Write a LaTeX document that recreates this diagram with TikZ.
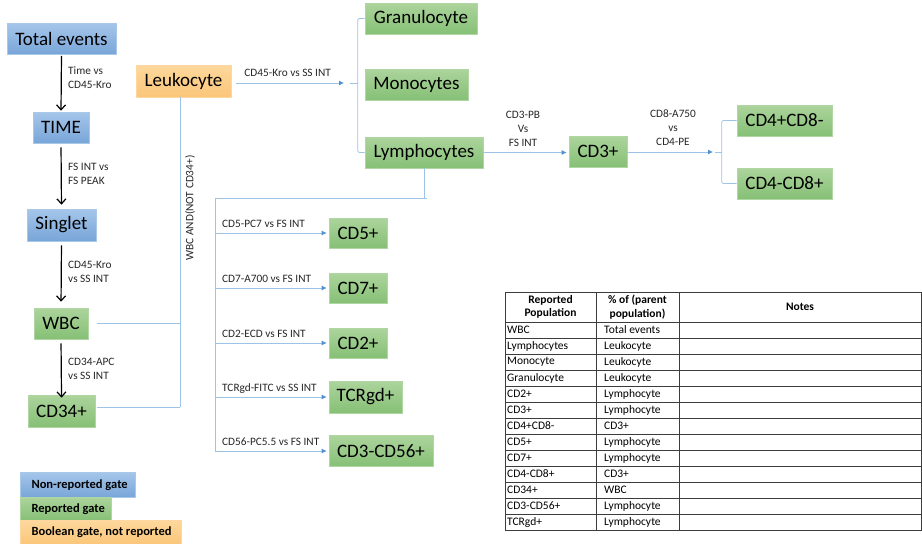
\documentclass[tikz,border=0pt]{standalone}
\usepackage{fontspec}
\setmainfont{Carlito}
\usetikzlibrary{arrows.meta}

\definecolor{bluetop}{RGB}{165,198,234}
\definecolor{bluebot}{RGB}{120,165,216}
\definecolor{blueedge}{RGB}{170,200,232}
\definecolor{greentop}{RGB}{172,212,156}
\definecolor{greenbot}{RGB}{134,192,118}
\definecolor{greenedge}{RGB}{176,214,164}
\definecolor{orangetop}{RGB}{253,216,156}
\definecolor{orangebot}{RGB}{251,198,122}
\definecolor{orangeedge}{RGB}{253,214,160}
\definecolor{connblue}{RGB}{157,195,230}
\definecolor{tipblue}{RGB}{80,145,210}
\definecolor{rule}{RGB}{60,60,60}

\tikzset{
  gate/.style={minimum height=31pt, inner sep=0pt, line width=0.6pt,
    font=\fontsize{19}{22}\selectfont},
  bluegate/.style={gate, top color=bluetop, bottom color=bluebot, draw=blueedge},
  greengate/.style={gate, top color=greentop, bottom color=greenbot, draw=greenedge},
  orangegate/.style={gate, top color=orangetop, bottom color=orangebot, draw=orangeedge},
  keybox/.style={inner sep=0pt, anchor=north west, line width=0.5pt},
  keytext/.style={anchor=west, font=\fontsize{12.5}{14}\selectfont\bfseries},
  flow/.style={line width=1.2pt, -{Straight Barb[length=5pt,width=9pt,line width=1.2pt]},
    shorten <=1pt, shorten >=1pt},
  conn/.style={draw=connblue, line width=0.8pt},
  connarrow/.style={conn, -{Latex[length=5pt,width=5pt,color=tipblue]}},
  lab/.style={font=\fontsize{11.3}{14}\selectfont, text=black!85, inner sep=0pt},
  cell/.style={font=\fontsize{11.5}{12}\selectfont, anchor=west, inner sep=0pt},
  head/.style={font=\fontsize{11.5}{13.5}\selectfont\bfseries, align=center, inner sep=0pt},
}

\begin{document}
\begin{tikzpicture}[x=1pt, y=-1pt]
\useasboundingbox (0,0) rectangle (922,544);

% ---- main gating chain ----
\node[bluegate, minimum width=109pt] (total) at (61.5,39) {Total events};
\node[bluegate, minimum width=56pt] (time) at (61,127.5) {TIME};
\node[bluegate, minimum width=69pt, minimum height=32pt] (singlet) at (61.5,225) {Singlet};
\node[greengate, minimum width=54pt] (wbc) at (61,323.5) {WBC};
\node[greengate, minimum width=67pt, minimum height=32pt] (cd34) at (61.5,411) {CD34+};

\draw[flow] (total.south) -- (time.north);
\draw[flow, shorten <=4pt, shorten >=4pt] (time.south) -- (singlet.north);
\draw[flow, shorten <=4pt, shorten >=6pt] (singlet.south) -- (wbc.north);
\draw[flow, shorten <=4pt, shorten >=-3pt] (wbc.south) -- (cd34.north);

\node[lab, anchor=west, align=left] (l1) at (68,78) {Time vs\\CD45-Kro};
\node[lab, anchor=west, align=left] (l2) at (68,173.5) {FS INT vs\\FS PEAK};
\node[lab, anchor=west, align=left] (l3) at (68,272) {CD45-Kro\\vs SS INT};
\node[lab, anchor=west, align=left] (l4) at (68,368.5) {CD34-APC\\vs SS INT};

% ---- boolean gate and its branches ----
\node[orangegate, minimum width=95pt, minimum height=32pt] (leuk) at (183.5,81) {Leukocyte};
\node[greengate, minimum width=112pt] (gran) at (421,18.5) {Granulocyte};
\node[greengate, minimum width=103pt] (mono) at (416.5,84.5) {Monocytes};
\node[greengate, minimum width=118pt] (lymph) at (424,152.5) {Lymphocytes};

\coordinate (b1tip) at (344,83);
\coordinate (b1nub) at (350,83);
\draw[connarrow, shorten <=5pt] (leuk.east |- b1tip) -- (b1tip)
  node[lab, midway, above=6pt] {CD45-Kro vs SS INT};
\draw[conn] (b1nub) -- ++(8,0);
\draw[conn, rounded corners=2pt] (gran.west) -- ++(-7,0) |- (lymph.west);

% leukocyte trunk combining WBC and CD34+
\coordinate (trunktop) at ([xshift=-3.5pt]leuk.south);
\coordinate (trunkbot) at (180,407);
\draw[conn] (trunktop) -- (trunkbot);
\draw[conn, shorten <=9pt] (wbc.east) -- (wbc.east -| trunktop);
\draw[conn, shorten <=2pt] (cd34.east |- trunkbot) -- (trunkbot);
\node[lab, rotate=90] (boolab) at (190,208) {WBC AND(NOT CD34+)};

% ---- T cell branch ----
\node[greengate, minimum width=58pt] (cd3) at (598,151.5) {CD3+};
\node[greengate, minimum width=95pt] (cd48) at (784.5,120.5) {CD4+CD8-};
\node[greengate, minimum width=95pt] (cd84) at (784.5,183.5) {CD4-CD8+};

\draw[connarrow, shorten >=2pt] (lymph.east) -- (cd3.west |- lymph.east);
\node[lab, align=center] (l5) at (523,129) {CD3-PB\\Vs\\FS INT};

\coordinate (b2tip) at (713,152);
\coordinate (b2nub) at (715,152);
\draw[connarrow] (cd3.east |- b2tip) -- (b2tip);
\draw[conn] (b2nub) -- ++(7,0);
\draw[conn, rounded corners=2pt] (cd48.west) -- ++(-15,0) |- (cd84.west);
\node[lab, align=center] (l6) at (673,128) {CD8-A750\\vs\\CD4-PE};

% ---- lymphocyte subsets ----
\node[greengate, minimum width=58pt, minimum height=30pt] (cd5) at (358,233) {CD5+};
\node[greengate, minimum width=58pt, minimum height=30pt] (cd7) at (358,288) {CD7+};
\node[greengate, minimum width=58pt, minimum height=30pt] (cd2) at (358,343) {CD2+};
\node[greengate, minimum width=73pt, minimum height=32pt] (tcr) at (365.5,397) {TCRgd+};
\node[greengate, minimum width=104pt] (cd56) at (381,451) {CD3-CD56+};

\coordinate (lymdrop) at (424,198);
\coordinate (bustop) at (215,198);
\coordinate (busbot) at (215,452);
\draw[conn] (lymph.south) -- (lymdrop);
\draw[conn] (bustop) -- ([xshift=3pt]lymdrop);
\draw[conn] (bustop) -- (busbot);

\foreach \t/\txt in {cd5/CD5-PC7 vs FS INT, cd7/CD7-A700 vs FS INT,
                     cd2/CD2-ECD vs FS INT, tcr/TCRgd-FITC vs SS INT,
                     cd56/CD56-PC5.5 vs FS INT}{
  \draw[connarrow, shorten >=2pt] (bustop |- \t.west) -- (\t.west);
  \node[lab, anchor=base west] at ([xshift=7pt, yshift=5.5pt]bustop |- \t.west) {\txt};
}

% ---- legend ----
\node[keybox, top color=bluetop, bottom color=bluebot, draw=blueedge,
  minimum width=115pt, minimum height=25pt] (kblue) at (20,472) {};
\node[keybox, top color=greentop, bottom color=greenbot, draw=greenedge,
  minimum width=91pt, minimum height=23pt] (kgreen) at (20,497) {};
\node[keybox, top color=orangetop, bottom color=orangebot, draw=orangeedge,
  minimum width=161pt, minimum height=24pt] (korange) at (20,520) {};
\node[keytext] at ([xshift=8pt]kblue.west) {Non-reported gate};
\node[keytext] at ([xshift=8pt]kgreen.west) {Reported gate};
\node[keytext] at ([xshift=8pt]korange.west) {Boolean gate, not reported};

% ---- summary table ----
\foreach \k in {1,...,12}{
  \draw[rule, line width=0.5pt] (505,322+16*\k) -- (921,322+16*\k);
}
\draw[rule, line width=0.9pt] (505,322) -- (921,322);
\draw[rule, line width=0.9pt] (596,292) -- (596,530);
\draw[rule, line width=0.9pt] (679,292) -- (679,530);
\draw[rule, line width=1pt] (505,292) rectangle (921,530);

\node[head] at (550.5,307) {Reported\\Population};
\node[head] at (637.5,307) {\% of (parent\\population)};
\node[head] at (800,307) {Notes};

\foreach [count=\i from 0] \pop/\prnt in {WBC/Total events, Lymphocytes/Leukocyte,
   Monocyte/Leukocyte, Granulocyte/Leukocyte, CD2+/Lymphocyte, CD3+/Lymphocyte,
   CD4+CD8-/CD3+, CD5+/Lymphocyte, CD7+/Lymphocyte, CD4-CD8+/CD3+, CD34+/WBC,
   CD3-CD56+/Lymphocyte, TCRgd+/Lymphocyte}{
  \node[cell] at (507,330+16*\i) {\pop};
  \node[cell] at (604,330+16*\i) {\prnt};
}
\end{tikzpicture}
\end{document}
